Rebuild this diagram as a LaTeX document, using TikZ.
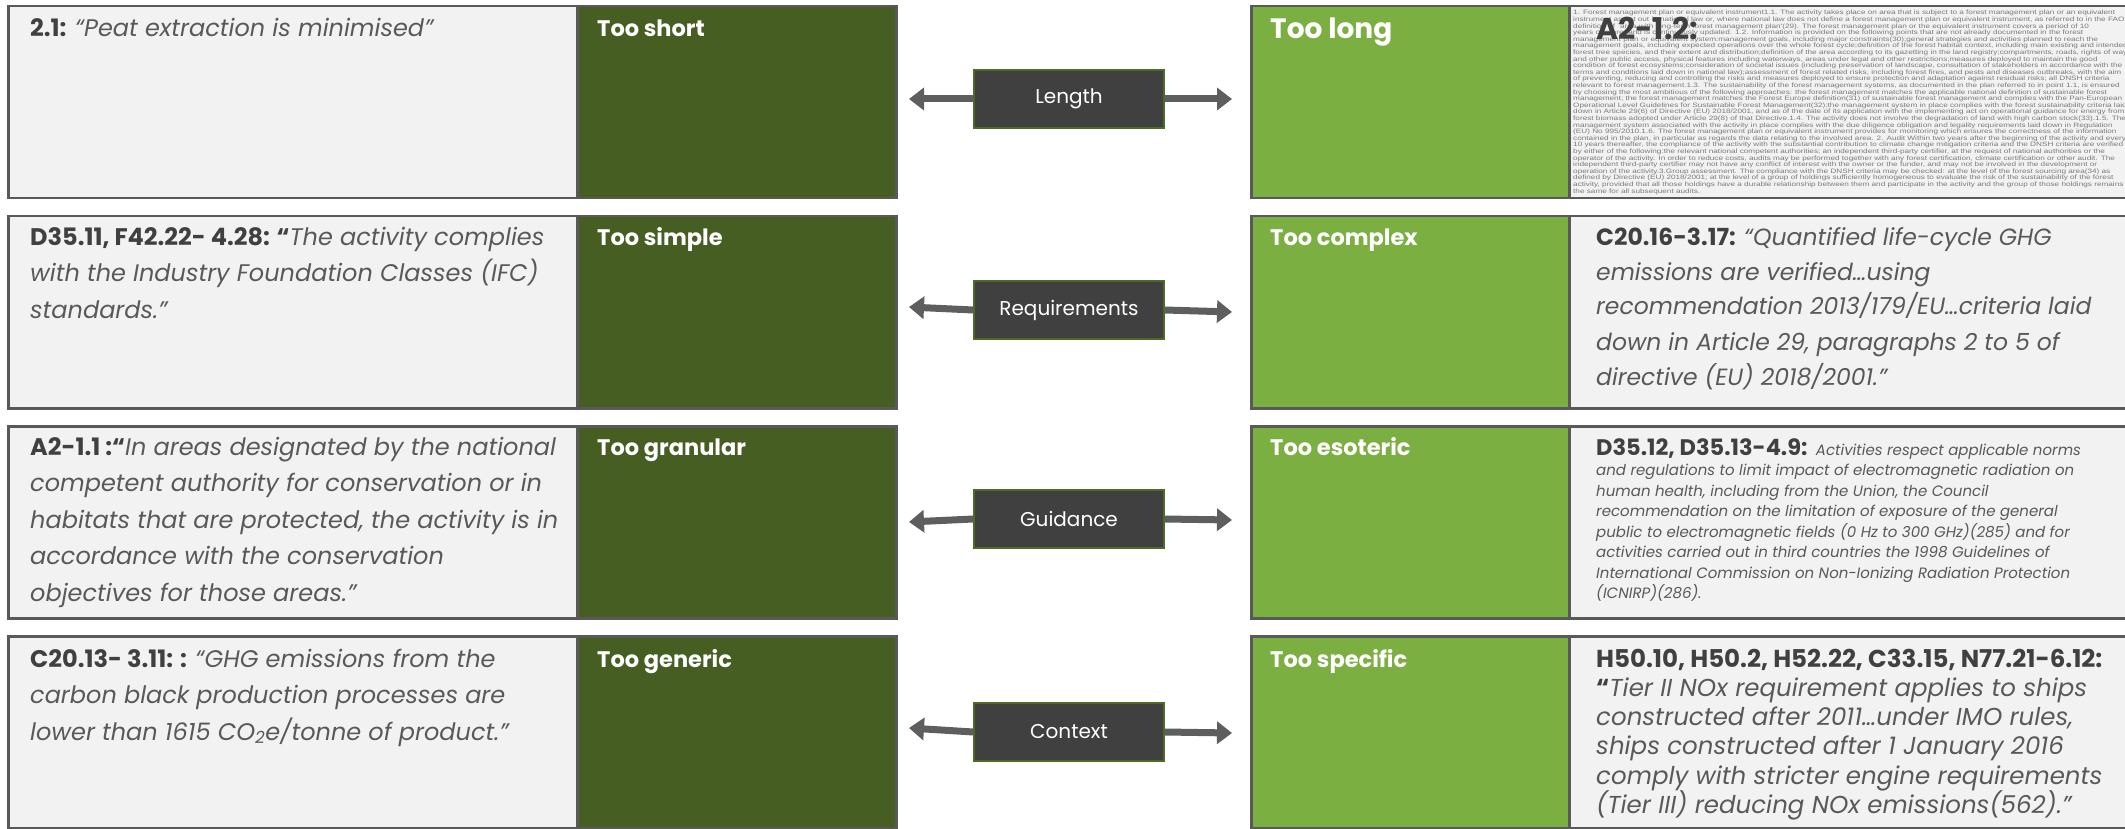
\documentclass[tikz,border=0pt]{standalone}
\usepackage{fontspec}
\usepackage{graphicx}
\setmainfont{Poppins}
\newfontfamily\sheetfont{Liberation Sans}
\usetikzlibrary{arrows.meta}

\definecolor{oliveband}{HTML}{465E22}
\definecolor{leafband}{HTML}{7CAF42}
\definecolor{paper}{HTML}{F2F2F2}
\definecolor{rim}{HTML}{595959}
\definecolor{ink}{HTML}{404040}
\definecolor{softink}{HTML}{595959}
\definecolor{tagfill}{HTML}{404040}
\definecolor{tagrim}{HTML}{4E6B26}
\definecolor{shaft}{HTML}{5E5E5E}
\definecolor{fineprint}{HTML}{7A7A7A}

% bold reference code, italic quotation, block of hand-broken lines at a fixed pitch
\newcommand\code[1]{{\color{ink}\bfseries #1}}
\newcommand\said{\color{softink}\itshape}
\newcommand\lines[2]{\parbox[t]{#1}{\lineskiplimit=-100pt\raggedright\leavevmode #2}}

\begin{document}
\begin{tikzpicture}[x=1pt,y=-1pt,
  cell/.style={draw=rim, line width=2.5pt, anchor=north west, inner sep=0pt, minimum height=192pt},
  quotecell/.style={cell, fill=paper, minimum width=569pt},
  olivecell/.style={cell, fill=oliveband, minimum width=319pt},
  leafcell/.style={cell, fill=leafband, minimum width=318pt},
  textcell/.style={cell, fill=paper, minimum width=562pt},
  head/.style={anchor=base west, inner sep=0pt, text=white, font=\fontsize{22.5}{26}\selectfont\bfseries},
  leftquote/.style={anchor=base west, inner sep=0pt, font=\fontsize{24}{36.5}\selectfont},
  rightquote/.style={anchor=base west, inner sep=0pt, font=\fontsize{23.5}{35}\selectfont},
  tag/.style={fill=tagfill, draw=tagrim, line width=1.5pt, minimum width=190pt, minimum height=58pt,
    text=white, font=\fontsize{20}{24}\selectfont},
  link/.style={draw=shaft, line width=7pt, -{Triangle[width=22pt,length=15pt]}}
]
\useasboundingbox (0,0) rectangle (2125,829);

% ---- left column: quotation, then olive label cell ----
\node[quotecell] (L1) at (7,5) {};
\node[olivecell] (D1) at (576,5) {};
\node[quotecell] (L2) at (7,215) {};
\node[olivecell] (D2) at (576,215) {};
\node[quotecell] (L3) at (7,425) {};
\node[olivecell] (D3) at (576,425) {};
\node[quotecell] (L4) at (7,635) {};
\node[olivecell] (D4) at (576,635) {};

% ---- right column: leaf label cell, then quotation ----
\node[leafcell] (G1) at (1250,5) {};
\node[textcell] (R1) at (1568,5) {};
\node[leafcell] (G2) at (1250,215) {};
\node[textcell] (R2) at (1568,215) {};
\node[leafcell] (G3) at (1250,425) {};
\node[textcell] (R3) at (1568,425) {};
\node[leafcell] (G4) at (1250,635) {};
\node[textcell] (R4) at (1568,635) {};

% ---- labels ----
\node[head] (h1) at (597,37) {Too short};
\node[head] (h2) at (597,245) {Too simple};
\node[head] (h3) at (597,455) {Too granular};
\node[head] (h4) at (597,667) {Too generic};
\node[head, font=\fontsize{28}{32}\selectfont\bfseries] (k1) at (1270,39) {Too long};
\node[head] (k2) at (1270,245) {Too complex};
\node[head] (k3) at (1270,455) {Too esoteric};
\node[head] (k4) at (1270,667) {Too specific};

% ---- left quotations ----
\node[leftquote] (q1) at (30,37) {\lines{540pt}{\code{2.1:} {\said “Peat extraction is minimised”}}};
\node[leftquote] (q2) at (30,245) {\lines{540pt}{\code{D35.11, F42.22- 4.28: “}{\said The activity complies\\
  with the Industry Foundation Classes (IFC)\\
  standards.”}}};
\node[leftquote] (q3) at (30,455) {\lines{540pt}{\code{A2-1.1 :“}{\said In areas designated by the national\\
  competent authority for conservation or in\\
  habitats that are protected, the activity is in\\
  accordance with the conservation\\
  objectives for those areas.”}}};
\node[leftquote] (q4) at (30,667) {\lines{540pt}{\code{C20.13- 3.11: :} {\said “GHG emissions from the\\
  carbon black production processes are\\
  lower than 1615 CO\textsubscript{2}e/tonne of product.”}}};

% ---- right quotations ----
\begin{scope}
  \clip (1570,7) rectangle (2125,196);
  \node[anchor=base west, inner sep=0pt, text=fineprint,
        font=\sheetfont\fontsize{6.3}{6.6}\selectfont] (fine) at (1573,15)
  {\scalebox{1.30}[1]{\lines{700pt}{%
1. Forest management plan or equivalent instrument1.1. The activity takes place on area that is subject to a forest management plan or an equivalent\\
instrument as set out in national law or, where national law does not define a forest management plan or equivalent instrument, as referred to in the FAO\\
definition of `area with long-term forest management plan'(29). The forest management plan or the equivalent instrument covers a period of 10\\
years or more, and is continuously updated. 1.2. Information is provided on the following points that are not already documented in the forest\\
management plan or equivalent system:management goals, including major constraints(30);general strategies and activities planned to reach the\\
management goals, including expected operations over the whole forest cycle;definition of the forest habitat context, including main existing and intended\\
forest tree species, and their extent and distribution;definition of the area according to its gazetting in the land registry;compartments, roads, rights of way\\
and other public access, physical features including waterways, areas under legal and other restrictions;measures deployed to maintain the good\\
condition of forest ecosystems;consideration of societal issues (including preservation of landscape, consultation of stakeholders in accordance with the\\
terms and conditions laid down in national law);assessment of forest related risks, including forest fires, and pests and diseases outbreaks, with the aim\\
of preventing, reducing and controlling the risks and measures deployed to ensure protection and adaptation against residual risks; all DNSH criteria\\
relevant to forest management.1.3. The sustainability of the forest management systems, as documented in the plan referred to in point 1.1, is ensured\\
by choosing the most ambitious of the following approaches: the forest management matches the applicable national definition of sustainable forest\\
management; the forest management matches the Forest Europe definition(31) of sustainable forest management and complies with the Pan-European\\
Operational Level Guidelines for Sustainable Forest Management(32);the management system in place complies with the forest sustainability criteria laid\\
down in Article 29(6) of Directive (EU) 2018/2001, and as of the date of its application with the implementing act on operational guidance for energy from\\
forest biomass adopted under Article 29(8) of that Directive.1.4. The activity does not involve the degradation of land with high carbon stock(33).1.5. The\\
management system associated with the activity in place complies with the due diligence obligation and legality requirements laid down in Regulation\\
(EU) No 995/2010.1.6. The forest management plan or equivalent instrument provides for monitoring which ensures the correctness of the information\\
contained in the plan, in particular as regards the data relating to the involved area. 2. Audit Within two years after the beginning of the activity and every\\
10 years thereafter, the compliance of the activity with the substantial contribution to climate change mitigation criteria and the DNSH criteria are verified\\
by either of the following:the relevant national competent authorities; an independent third-party certifier, at the request of national authorities or the\\
operator of the activity. In order to reduce costs, audits may be performed together with any forest certification, climate certification or other audit. The\\
independent third-party certifier may not have any conflict of interest with the owner or the funder, and may not be involved in the development or\\
operation of the activity.3.Group assessment. The compliance with the DNSH criteria may be checked: at the level of the forest sourcing area(34) as\\
defined by Directive (EU) 2018/2001; at the level of a group of holdings sufficiently homogeneous to evaluate the risk of the sustainability of the forest\\
activity, provided that all those holdings have a durable relationship between them and participate in the activity and the group of those holdings remains\\
the same for all subsequent audits.}}};
\end{scope}
\node[anchor=base west, inner sep=0pt, text=ink, font=\fontsize{30}{34}\selectfont\bfseries] (a12) at (1596,40) {A2-1.2:};

\node[rightquote] (p2) at (1596,245) {\lines{530pt}{\code{C20.16-3.17:} {\said “Quantified life-cycle GHG\\
  emissions are verified…using\\
  recommendation 2013/179/EU…criteria laid\\
  down in Article 29, paragraphs 2 to 5 of\\
  directive (EU) 2018/2001.”}}};
\node[rightquote] (p3) at (1596,455) {\lines{530pt}{{\fontsize{22.5}{26}\selectfont\code{D35.12, D35.13-4.9:}}
  {\fontsize{15}{20.5}\selectfont\said Activities respect applicable norms\\
  and regulations to limit impact of electromagnetic radiation on\\
  human health, including from the Union, the Council\\
  recommendation on the limitation of exposure of the general\\
  public to electromagnetic fields (0 Hz to 300 GHz)(285) and for\\
  activities carried out in third countries the 1998 Guidelines of\\
  International Commission on Non-Ionizing Radiation Protection\\
  (ICNIRP)(286).\par}}};
\node[rightquote, font=\fontsize{24.5}{29.3}\selectfont] (p4) at (1596,667) {\lines{530pt}{\code{H50.10, H50.2, H52.22, C33.15, N77.21-6.12:}\\
  \code{“}{\said Tier II NOx requirement applies to ships\\
  constructed after 2011…under IMO rules,\\
  ships constructed after 1 January 2016\\
  comply with stricter engine requirements\\
  (Tier III) reducing NOx emissions(562).”}}};

% ---- centre tags with two-way arrows ----
\node[tag] (t1) at (1069,99) {Length};
\node[tag] (t2) at (1069,310) {Requirements};
\node[tag] (t3) at (1069,519) {Guidance};
\node[tag] (t4) at (1069,732) {Context};

\coordinate (t1l) at (909,99);   \coordinate (t1r) at (1232,99);
\coordinate (t2l) at (909,307);  \coordinate (t2r) at (1232,312);
\coordinate (t3l) at (909,522);  \coordinate (t3r) at (1232,520);
\coordinate (t4l) at (909,728);  \coordinate (t4r) at (1232,733);

\draw[link] (t1.west) -- (t1l);  \draw[link] (t1.east) -- (t1r);
\draw[link] (t2.west) -- (t2l);  \draw[link] (t2.east) -- (t2r);
\draw[link] (t3.west) -- (t3l);  \draw[link] (t3.east) -- (t3r);
\draw[link] (t4.west) -- (t4l);  \draw[link] (t4.east) -- (t4r);
\end{tikzpicture}
\end{document}
